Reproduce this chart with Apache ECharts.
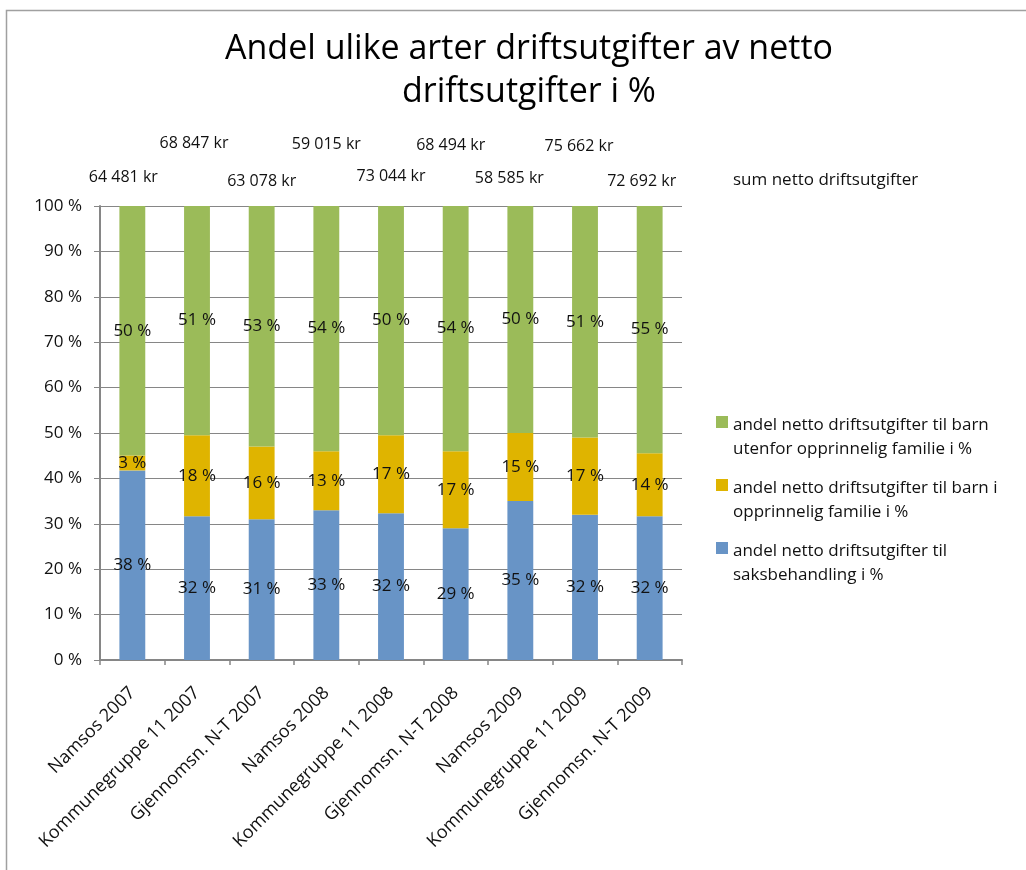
<!DOCTYPE html>
<html>
<head>
<meta charset="utf-8">
<script src="https://cdn.jsdelivr.net/npm/echarts@6/dist/echarts.min.js"></script>
<style>
  html, body { margin: 0; padding: 0; background: #ffffff; overflow: hidden; }
  #chart { width: 1026px; height: 870px; }
</style>
</head>
<body>
<div id="chart"></div>
<script>
// Categories along the x axis
const categories = [
  'Namsos 2007', 'Kommunegruppe 11 2007', 'Gjennomsn. N-T 2007',
  'Namsos 2008', 'Kommunegruppe 11 2008', 'Gjennomsn. N-T 2008',
  'Namsos 2009', 'Kommunegruppe 11 2009', 'Gjennomsn. N-T 2009'
];

// Shares in percent, as labelled on each segment
const saksbehandling = [38, 32, 31, 33, 32, 29, 35, 32, 32];
const barnIOpprinneligFamilie = [3, 18, 16, 13, 17, 17, 15, 17, 14];
const barnUtenforOpprinneligFamilie = [50, 51, 53, 54, 50, 54, 50, 51, 55];

// Sum of net operating expenses (kr) per category
const sumNettoDriftsutgifter = [64481, 68847, 63078, 59015, 73044, 68494, 58585, 75662, 72692];

// Value axis tick labels
const yTickValues = [0, 10, 20, 30, 40, 50, 60, 70, 80, 90, 100];

// Series names
const nameSaks = 'andel netto driftsutgifter til saksbehandling i %';
const nameIFam = 'andel netto driftsutgifter til barn i opprinnelig familie i %';
const nameUtenfor = 'andel netto driftsutgifter til barn utenfor opprinnelig familie i %';
const nameSum = 'sum netto driftsutgifter';

// Legend text broken into two lines
const legendLines = {};
legendLines[nameUtenfor] = 'andel netto driftsutgifter til barn\nutenfor opprinnelig familie i %';
legendLines[nameIFam] = 'andel netto driftsutgifter til barn i\nopprinnelig familie i %';
legendLines[nameSaks] = 'andel netto driftsutgifter til\nsaksbehandling i %';

// Placement of the kr labels above each column (dx, dy from the column top)
const krLabelOffset = [[-9, -29], [-3, -63], [0, -25], [0, -62], [0, -30], [-5, -61], [-11, -28], [-6, -60], [-8, -25]];

const FONT = "'Open Sans', 'Noto Sans', sans-serif";
const AXIS_GREY = '#868686';

// 100 % stacking: each segment is drawn as its share of the column total
const totals = categories.map((_, i) =>
  saksbehandling[i] + barnIOpprinneligFamilie[i] + barnUtenforOpprinneligFamilie[i]);
function shares(arr) {
  return arr.map((v, i) => ({ value: v / totals[i] * 100, raw: v }));
}
function formatKr(n) {
  return String(n).replace(/\B(?=(\d{3})+(?!\d))/g, ' ') + ' kr';
}

const segLabel = {
  show: true,
  position: 'inside',
  color: '#111',
  fontFamily: FONT,
  fontSize: 17,
  formatter: p => p.data.raw + ' %'
};

function segment(name, values, color) {
  return {
    name: name,
    type: 'bar',
    stack: 'andel',
    barCategoryGap: '60%',
    data: shares(values),
    itemStyle: { color: color },
    label: segLabel,
    emphasis: { disabled: true }
  };
}

const chart = echarts.init(document.getElementById('chart'), null, { renderer: 'canvas' });

chart.setOption({
  animation: false,
  backgroundColor: '#ffffff',
  title: {
    text: 'Andel ulike arter driftsutgifter av netto\ndriftsutgifter i %',
    left: 524,
    textAlign: 'center',
    top: 23,
    textStyle: {
      fontFamily: FONT,
      fontSize: 34,
      fontWeight: 'normal',
      color: '#000',
      lineHeight: 43
    }
  },
  graphic: [{
    type: 'rect',
    silent: true,
    shape: { x: 6.5, y: 10.5, width: 3000, height: 3000 },
    style: { fill: 'none', stroke: '#a0a0a0', lineWidth: 1.5 }
  }],
  legend: [{
    data: [nameUtenfor, nameIFam, nameSaks],
    orient: 'vertical',
    left: 716,
    top: 413,
    padding: 0,
    itemGap: 15,
    itemWidth: 12,
    itemHeight: 48,
    icon: 'path://M0,6h12v12h-12z M0,48h0.01',
    selectedMode: false,
    formatter: n => legendLines[n],
    textStyle: { fontFamily: FONT, fontSize: 17, color: '#111', lineHeight: 24 }
  }, {
    data: [nameSum],
    left: 728,
    top: 169,
    padding: 0,
    itemWidth: 0,
    itemHeight: 0,
    selectedMode: false,
    textStyle: { fontFamily: FONT, fontSize: 17, color: '#111', lineHeight: 22 }
  }],
  grid: { left: 100, right: 344, top: 206, bottom: 210, containLabel: false },
  xAxis: {
    type: 'category',
    data: categories,
    axisLine: { show: true, lineStyle: { color: AXIS_GREY, width: 2 } },
    axisTick: { show: true, length: 5, lineStyle: { color: AXIS_GREY, width: 1.5 } },
    axisLabel: {
      rotate: 45,
      margin: 30,
      interval: 0,
      fontFamily: FONT,
      fontSize: 18,
      color: '#111'
    }
  },
  yAxis: {
    type: 'value',
    min: 0,
    max: 100,
    interval: 10,
    axisLine: { show: true, lineStyle: { color: AXIS_GREY, width: 2 } },
    axisTick: { show: true, length: 6, lineStyle: { color: AXIS_GREY, width: 1 } },
    splitLine: { show: true, lineStyle: { color: AXIS_GREY, width: 1 } },
    axisLabel: {
      margin: 18,
      fontFamily: FONT,
      fontSize: 17,
      color: '#111',
      formatter: v => (yTickValues.indexOf(v) >= 0 ? v + ' %' : '')
    }
  },
  series: [
    segment(nameSaks, saksbehandling, '#6894c6'),
    segment(nameIFam, barnIOpprinneligFamilie, '#dfb400'),
    segment(nameUtenfor, barnUtenforOpprinneligFamilie, '#9bbb59'),
    {
      // zero-height cap on each column carrying the kr total as its label
      name: nameSum,
      type: 'bar',
      stack: 'andel',
      itemStyle: { color: 'rgba(0,0,0,0)' },
      emphasis: { disabled: true },
      data: sumNettoDriftsutgifter.map((v, i) => ({
        value: 0,
        label: { offset: krLabelOffset[i] }
      })),
      label: {
        show: true,
        position: 'inside',
        fontFamily: FONT,
        fontSize: 16,
        color: '#111',
        formatter: p => formatKr(sumNettoDriftsutgifter[p.dataIndex])
      }
    }
  ]
});
</script>
</body>
</html>
